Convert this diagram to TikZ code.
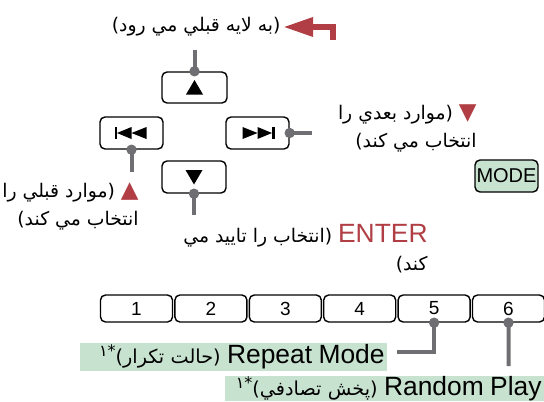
\documentclass[tikz,border=0pt]{standalone}
\usepackage{fontspec}
\setmainfont{Liberation Sans}
\newfontfamily\arabicfont[Script=Arabic]{DejaVu Sans}
\TeXXeTstate=1
\usetikzlibrary{arrows.meta}
\definecolor{linegray}{RGB}{110,110,115}
\definecolor{markred}{RGB}{176,62,68}
\definecolor{keygreen}{RGB}{200,226,208}
\newcommand\lat[1]{\beginL{\normalfont\fontsize{13.2}{14}\selectfont #1}\endL}
\newcommand\redmark[1]{\beginL{\color{markred}#1}\endL}
\newcommand\redtri[1]{\redmark{\fontsize{11.5}{14}\selectfont #1}}
\newcommand\starone{\raisebox{3.5pt}{\fontsize{8}{9}\selectfont\beginL\hbox{۱}\hbox{*}\endL}}
\tikzset{
  key/.style={draw, rounded corners=2.5pt, line width=0.7pt, inner sep=0pt,
    minimum width=32pt, minimum height=16pt},
  numkey/.style={key, minimum width=36pt, minimum height=13.5pt,
    font=\fontsize{9.5}{11}\selectfont},
  lead/.style={linegray, line width=2pt},
  note/.style={inner sep=0pt, align=right,
    font=\arabicfont\fontsize{9.4}{14}\selectfont},
  band/.style={fill=keygreen, inner sep=0pt, inner xsep=1pt, align=right,
    font=\arabicfont\fontsize{9.6}{14}\selectfont},
  backarrow/.style={markred, line width=3pt, -{Triangle[length=15pt,width=9pt]}},
  uptri/.pic={\fill (-8.5,7) -- (8.5,7) -- (0,-7.5) -- cycle;},
  skipsym/.pic={\fill (-17,-6) rectangle (-14.5,6);
    \fill (-14.5,0) -- (0,-6) -- (0,6) -- cycle;
    \fill (0,0) -- (15,-6) -- (15,6) -- cycle;}
}
\begin{document}
\begin{tikzpicture}[x=0.5pt,y=-0.5pt]
	\useasboundingbox (0,0) rectangle (544,401);
	% keys
	\node[key, minimum width=32.5pt, minimum height=15.5pt] (upkey) at (194.5,87.5) {};
	\node[key, minimum width=31.5pt] (prevkey) at (131.5,133) {};
	\node[key, minimum width=31.5pt] (nextkey) at (257.5,133) {};
	\node[key] (downkey) at (194,177) {};
	\node[key, minimum width=31.5pt, fill=keygreen, font=\fontsize{10}{12}\selectfont] (modekey) at (506.5,176) {MODE};
	\pic at (upkey) {uptri};
	\pic[yscale=-1] at (downkey) {uptri};
	\pic at (prevkey) {skipsym};
	\pic[xscale=-1] at (nextkey) {skipsym};
	\foreach \n in {1,...,6}
		\node[numkey] (k\n) at ({136.5+74.4*(\n-1)},308.5) {\n};
	% texts
	\node[note, anchor=east] (uptext) at (281,27) {\beginR(به لايه قبلي مي رود)\endR};
	\node[note, anchor=north east] (nexttext) at (477,104) {\beginR\redtri{▼} (موارد بعدي را\endR\\\beginR انتخاب مي كند)\endR};
	\node[note, anchor=north east] (prevtext) at (139,182) {\beginR\redtri{▲} (موارد قبلي را\endR\\\beginR انتخاب مي كند)\endR};
	\node[note, anchor=north east] (entertext) at (428,224) {\beginR\redmark{\lat{ENTER}} (انتخاب را تاييد مي\endR\\\beginR كند)\endR};
	\node[band, anchor=east, text width=151.5pt, minimum height=14pt] (repeattext) at (387,357) {\beginR\lat{Repeat Mode} (حالت تكرار)\starone\endR};
	\node[band, anchor=east, text width=157.5pt, minimum height=12.5pt] (randomtext) at (544,388.5) {\beginR\lat{Random Play} (پخش تصادفي)\starone\endR};
	% leads
	\coordinate (uptop) at (194.5,50);
	\coordinate (prevend) at (131.5,172);
	\coordinate (downend) at (194,215);
	\coordinate (nextend) at (312,133);
	\coordinate (fiveend) at (397,352);
	\coordinate (sixend) at (508.5,366);
	\coordinate (backfrom) at (333,40);
	\draw[lead] (upkey.north) -- (uptop);
	\draw[lead] (prevkey.south) -- (prevend);
	\draw[lead] (downkey.south) -- (downend);
	\draw[lead] (nextkey.east) -- (nextend);
	\draw[lead] (k5.south) |- (fiveend);
	\draw[lead] (k6.south) -- (sixend);
	\foreach \k/\a in {upkey/north, prevkey/south, downkey/south, nextkey/east, k5/south, k6/south}
		\fill[linegray] (\k.\a) circle[radius=2.6pt];
	\draw[backarrow, shorten >=1pt] (backfrom) |- (uptext.east);
\end{tikzpicture}
\end{document}
